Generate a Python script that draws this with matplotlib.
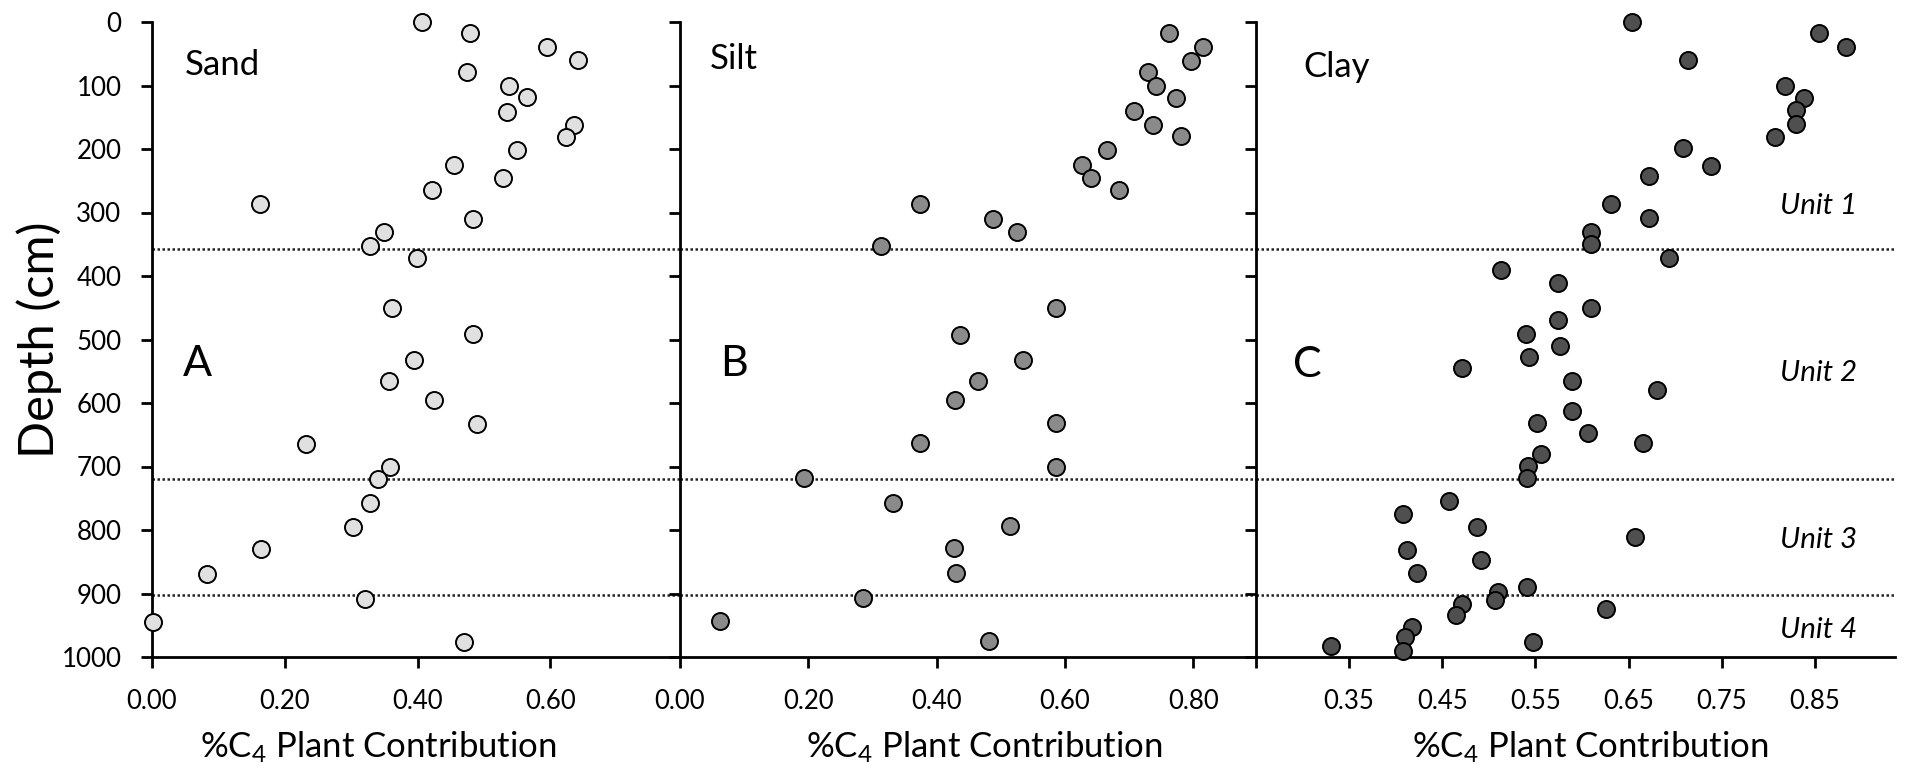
import numpy as np
import matplotlib
matplotlib.use('Agg')
import matplotlib.pyplot as plt

plt.rcParams['font.family'] = ['Lato', 'DejaVu Sans']
plt.rcParams['mathtext.fontset'] = 'custom'
plt.rcParams['mathtext.rm'] = 'Lato'
plt.rcParams['mathtext.it'] = 'Lato:italic'

# --- data: %C4 contribution vs depth (cm) ---
sand_depth = [0, 18, 39, 60, 79, 101, 118, 141, 162, 181, 202, 225, 246, 265, 286,
              311, 330, 353, 371, 450, 492, 532, 566, 596, 633, 664, 701, 719, 758,
              796, 830, 869, 908, 945, 977]
sand_c4 = [0.406, 0.479, 0.594, 0.641, 0.475, 0.537, 0.565, 0.535, 0.636, 0.623,
           0.550, 0.454, 0.528, 0.421, 0.162, 0.483, 0.349, 0.328, 0.399, 0.361,
           0.483, 0.395, 0.357, 0.424, 0.490, 0.232, 0.359, 0.341, 0.328, 0.303,
           0.164, 0.083, 0.321, 0.001, 0.470]

silt_depth = [18, 39, 62, 79, 100, 120, 140, 162, 180, 202, 225, 246, 265, 286, 311,
              331, 352, 450, 493, 533, 566, 596, 632, 663, 700, 718, 758, 794, 829,
              868, 907, 944, 975]
silt_c4 = [0.763, 0.816, 0.797, 0.729, 0.742, 0.773, 0.708, 0.737, 0.781, 0.666,
           0.627, 0.641, 0.684, 0.374, 0.488, 0.525, 0.314, 0.586, 0.436, 0.535,
           0.464, 0.429, 0.586, 0.374, 0.586, 0.193, 0.332, 0.515, 0.427, 0.431,
           0.285, 0.062, 0.481]

clay_depth = [0, 18, 40, 60, 100, 120, 139, 160, 181, 199, 226, 243, 286, 308, 330,
              350, 371, 391, 411, 450, 469, 491, 511, 528, 545, 565, 580, 613, 631,
              648, 663, 681, 699, 718, 755, 775, 796, 811, 831, 848, 868, 890, 898,
              910, 916, 924, 934, 952, 968, 976, 983, 991]
clay_c4 = [0.654, 0.854, 0.883, 0.714, 0.818, 0.838, 0.830, 0.830, 0.807, 0.708,
           0.738, 0.672, 0.631, 0.672, 0.610, 0.610, 0.693, 0.513, 0.574, 0.610,
           0.574, 0.540, 0.576, 0.543, 0.471, 0.589, 0.681, 0.589, 0.552, 0.606,
           0.666, 0.556, 0.542, 0.541, 0.457, 0.408, 0.487, 0.657, 0.412, 0.492,
           0.423, 0.541, 0.510, 0.507, 0.471, 0.626, 0.465, 0.417, 0.410, 0.547,
           0.330, 0.408]

unit_bounds = [358, 719, 902]
unit_labels = ['Unit 1', 'Unit 2', 'Unit 3', 'Unit 4']
unit_label_depth = [290, 553, 815, 957]

depth_ticks = list(range(0, 1001, 100))
sand_ticks = [0.0, 0.2, 0.4, 0.6]
silt_ticks = [0.0, 0.2, 0.4, 0.6, 0.8]
clay_ticks = [0.25, 0.35, 0.45, 0.55, 0.65, 0.75, 0.85]
clay_ticklabels = ['', '0.35', '0.45', '0.55', '0.65', '0.75', '0.85']

XLABEL = '%C$_4$ Plant Contribution'

W, H = 1906, 770
fig = plt.figure(figsize=(W / 100, H / 100), dpi=100)
renderer = fig.canvas.get_renderer()


def size_for(s, width_px, **kw):
    # font size that makes s about width_px wide (widths measured on the reference)
    t = fig.text(0, 0, s, fontsize=20, **kw)
    w = t.get_window_extent(renderer).width
    t.remove()
    return 20 * width_px / w


fs_tick = size_for('0.00', 51)
fs_ytick = size_for('1000', 60)
fs_xlabel = size_for(XLABEL, 357)
fs_ylabel = size_for('Depth (cm)', 237)
fs_name = size_for('Sand', 75)
fs_letter = size_for('A', 29)
fs_unit = size_for('Unit 1', 77, style='italic')

top, bot = 22, 657
def px_axes(x0, x1):
    return fig.add_axes([x0 / W, 1 - bot / H, (x1 - x0) / W, (bot - top) / H])

ax_a = px_axes(152, 680)
ax_b = px_axes(680, 1256)
ax_c = px_axes(1256, 1895)

# xlabel x-centre (axes fraction) - the labels are not centred under each panel
panels = [
    (ax_a, sand_c4, sand_depth, '#e0e0e0', (0, 0.795), sand_ticks, None,
     'Sand', (0.050, 68), 'A', (0.047, 538), 0.428),
    (ax_b, silt_c4, silt_depth, '#8a8a8a', (0, 0.898), silt_ticks, None,
     'Silt', (0.047, 59), 'B', (0.063, 538), 0.528),
    (ax_c, clay_c4, clay_depth, '#4f4f4f', (0.25, 0.936), clay_ticks, clay_ticklabels,
     'Clay', (0.301, 71), 'C', (0.290, 540), 0.523),
]

for ax, xv, yv, fc, xlim, xt, xtl, name, name_xy, letter, letter_xy, lab_x in panels:
    for d in unit_bounds:
        ax.axhline(d, color='#222222', lw=1.8, ls=(0, (1, 1)), zorder=1)
    ax.scatter(xv, yv, s=150, facecolor=fc, edgecolor='black', linewidths=1.4,
               zorder=3, clip_on=False)
    ax.set_xlim(*xlim)
    ax.set_ylim(1000, 0)
    ax.set_xticks(xt)
    if xtl is None:
        ax.set_xticklabels([f'{t:.2f}' for t in xt])
    else:
        ax.set_xticklabels(xtl)
    ax.set_yticks(depth_ticks)
    for s in ['top', 'right']:
        ax.spines[s].set_visible(False)
    for s in ['left', 'bottom']:
        ax.spines[s].set_linewidth(2)
    ax.tick_params(axis='both', direction='out', length=8, width=2,
                   labelsize=fs_tick, pad=15)
    ax.set_xlabel(XLABEL, fontsize=fs_xlabel, va='center')
    ax.xaxis.set_label_coords(lab_x, -0.142)
    ax.text(*name_xy, name, fontsize=fs_name, ha='left', va='center')
    ax.text(*letter_xy, letter, fontsize=fs_letter, ha='left', va='center')

ax_a.tick_params(axis='y', labelsize=fs_ytick, pad=14)
ax_a.set_ylabel('Depth (cm)', fontsize=fs_ylabel, va='center')
ax_a.yaxis.set_label_coords(-0.213, 0.5)
ax_b.set_yticklabels([])
ax_c.set_yticklabels([])

for lab, d in zip(unit_labels, unit_label_depth):
    ax_c.text(0.895, d, lab, fontsize=fs_unit, style='italic', ha='right', va='center')

fig.savefig('out.png', dpi=100)
